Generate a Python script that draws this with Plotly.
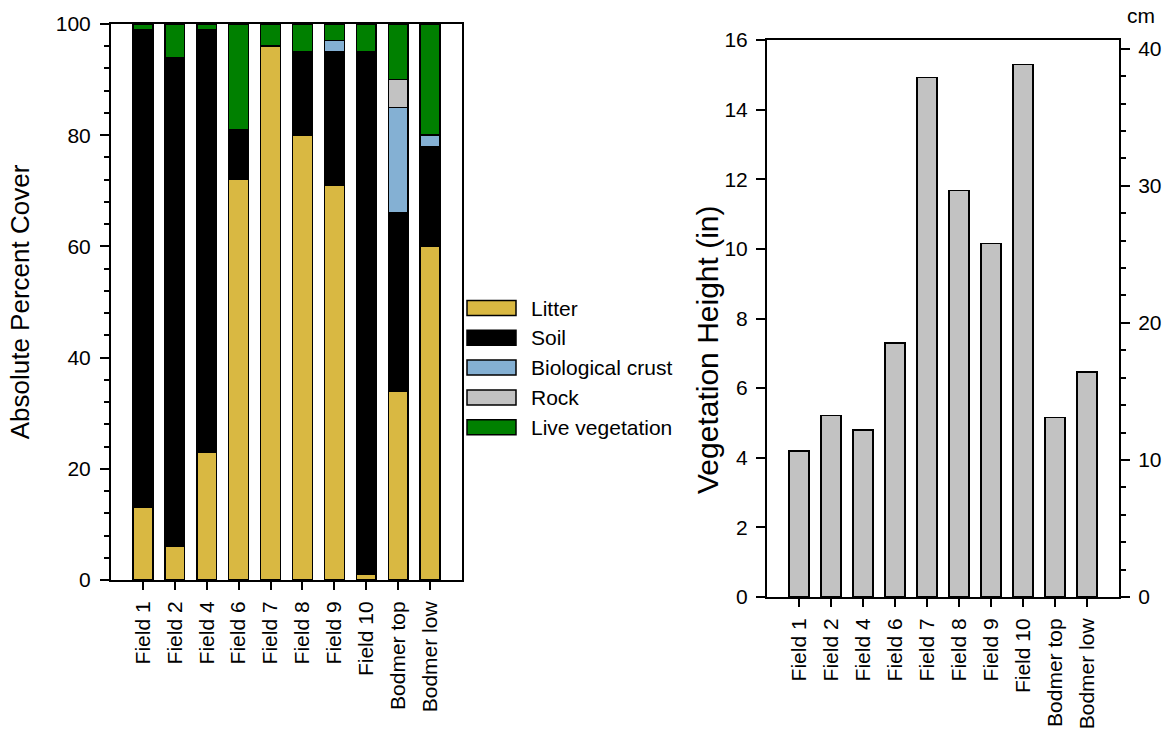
import plotly.graph_objects as go

categories = ["Field 1", "Field 2", "Field 4", "Field 6", "Field 7", "Field 8",
              "Field 9", "Field 10", "Bodmer top", "Bodmer low"]

litter = [13, 6, 23, 72, 96, 80, 71, 1, 34, 60]
soil = [86, 88, 76, 9, 0, 15, 24, 94, 32, 18]
bio_crust = [0, 0, 0, 0, 0, 0, 2, 0, 19, 2]
rock = [0, 0, 0, 0, 0, 0, 0, 0, 5, 0]
live_veg = [1, 6, 1, 19, 4, 5, 3, 5, 10, 20]

veg_height_in = [4.2, 5.22, 4.8, 7.3, 14.93, 11.68, 10.15, 15.3, 5.15, 6.47]

series_names = ["Litter", "Soil", "Biological crust", "Rock", "Live vegetation"]
series_values = [litter, soil, bio_crust, rock, live_veg]
series_colors = ["#D9B842", "#000000", "#84B0D3", "#C2C2C2", "#008000"]

FONT = "Arial, Liberation Sans, sans-serif"
W, H = 1166, 729

fig = go.Figure()

for name, vals, col in zip(series_names, series_values, series_colors):
    fig.add_trace(go.Bar(
        x=categories, y=vals, name=name, xaxis="x", yaxis="y",
        marker=dict(color=col, line=dict(color="black", width=1.5)),
        width=0.62, showlegend=False,
    ))

fig.add_trace(go.Bar(
    x=categories, y=veg_height_in, name="Vegetation height", xaxis="x2", yaxis="y2",
    marker=dict(color="#C2C2C2", line=dict(color="black", width=1.5)),
    width=0.62, showlegend=False,
))
# invisible trace to activate the cm axis
fig.add_trace(go.Scatter(x=[categories[0]], y=[0], xaxis="x2", yaxis="y3",
                         mode="markers", marker=dict(opacity=0), showlegend=False,
                         hoverinfo="skip"))

x1d = [111 / W, 462 / W]
x2d = [767 / W, 1119 / W]
y1d = [1 - 580 / H, 1 - 24 / H]
y2d = [1 - 597 / H, 1 - 40 / H]

TICKSZ = 21

common_x = dict(
    type="category", range=[-1, 10], showline=True, linecolor="black", linewidth=2,
    mirror=True, ticks="outside", ticklen=8, tickwidth=1.5, tickcolor="black",
    tickangle=-90, tickfont=dict(size=TICKSZ, color="black", family=FONT),
    ticklabelstandoff=3,
    showgrid=False, zeroline=False, automargin=False,
)

# custom legend (wide swatches like the reference)
shapes = []
annotations = []
leg_x0, leg_x1, leg_text_x = 467, 516, 529
leg_y0, leg_step, sw_h = 308, 29.8, 15
for i, (name, col) in enumerate(zip(series_names, series_colors)):
    yc = leg_y0 + i * leg_step
    shapes.append(dict(
        type="rect", xref="paper", yref="paper",
        x0=leg_x0 / W, x1=leg_x1 / W, y0=1 - (yc + sw_h / 2) / H, y1=1 - (yc - sw_h / 2) / H,
        fillcolor=col, line=dict(color="black", width=1.5),
    ))
    annotations.append(dict(
        text=name, xref="paper", yref="paper", x=leg_text_x / W, y=1 - yc / H,
        xanchor="left", yanchor="middle", showarrow=False,
        font=dict(size=21, color="black", family=FONT),
    ))

annotations.append(dict(
    text="cm", xref="paper", yref="paper", x=1141 / W, y=1 - 15 / H,
    xanchor="center", yanchor="middle", showarrow=False,
    font=dict(size=21, color="black", family=FONT),
))
annotations.append(dict(
    text="Vegetation Height (in)", xref="paper", yref="paper", x=707 / W, y=1 - 350 / H,
    xanchor="center", yanchor="middle", showarrow=False, textangle=-90,
    font=dict(size=30, color="black", family=FONT),
))

fig.update_layout(
    width=W, height=H,
    margin=dict(l=0, r=0, t=0, b=0),
    paper_bgcolor="white", plot_bgcolor="white",
    barmode="stack",
    showlegend=False,
    font=dict(family=FONT, color="black", size=21),
    xaxis=dict(domain=x1d, anchor="y", **common_x),
    yaxis=dict(
        domain=y1d, anchor="x", range=[0, 100], dtick=20,
        showline=True, linecolor="black", linewidth=2, mirror=True,
        ticks="outside", ticklen=9, tickwidth=1.5, tickcolor="black",
        minor=dict(dtick=4, ticks="outside", ticklen=5, tickwidth=1.5, tickcolor="black"),
        tickfont=dict(size=TICKSZ, color="black", family=FONT),
        ticklabelstandoff=5,
        title=dict(text="Absolute Percent Cover", font=dict(size=26, color="black", family=FONT), standoff=19),
        showgrid=False, zeroline=False, automargin=False,
    ),
    xaxis2=dict(domain=x2d, anchor="y2", **common_x),
    yaxis2=dict(
        domain=y2d, anchor="x2", range=[0, 16], dtick=2,
        showline=True, linecolor="black", linewidth=2,
        ticks="outside", ticklen=9, tickwidth=1.5, tickcolor="black",
        tickfont=dict(size=TICKSZ, color="black", family=FONT),
        ticklabelstandoff=4,
        showgrid=False, zeroline=False, automargin=False,
    ),
    yaxis3=dict(
        overlaying="y2", side="right", anchor="x2", range=[0, 16 * 2.54], dtick=10,
        showline=True, linecolor="black", linewidth=2,
        ticks="outside", ticklen=9, tickwidth=1.5, tickcolor="black",
        minor=dict(dtick=2, ticks="outside", ticklen=5, tickwidth=1.5, tickcolor="black"),
        tickfont=dict(size=TICKSZ, color="black", family=FONT),
        ticklabelstandoff=4,
        showgrid=False, zeroline=False, automargin=False,
    ),
    shapes=shapes,
    annotations=annotations,
)

fig.write_html("out.html", config={"displayModeBar": False},
               post_script="document.body.style.margin='0';")
